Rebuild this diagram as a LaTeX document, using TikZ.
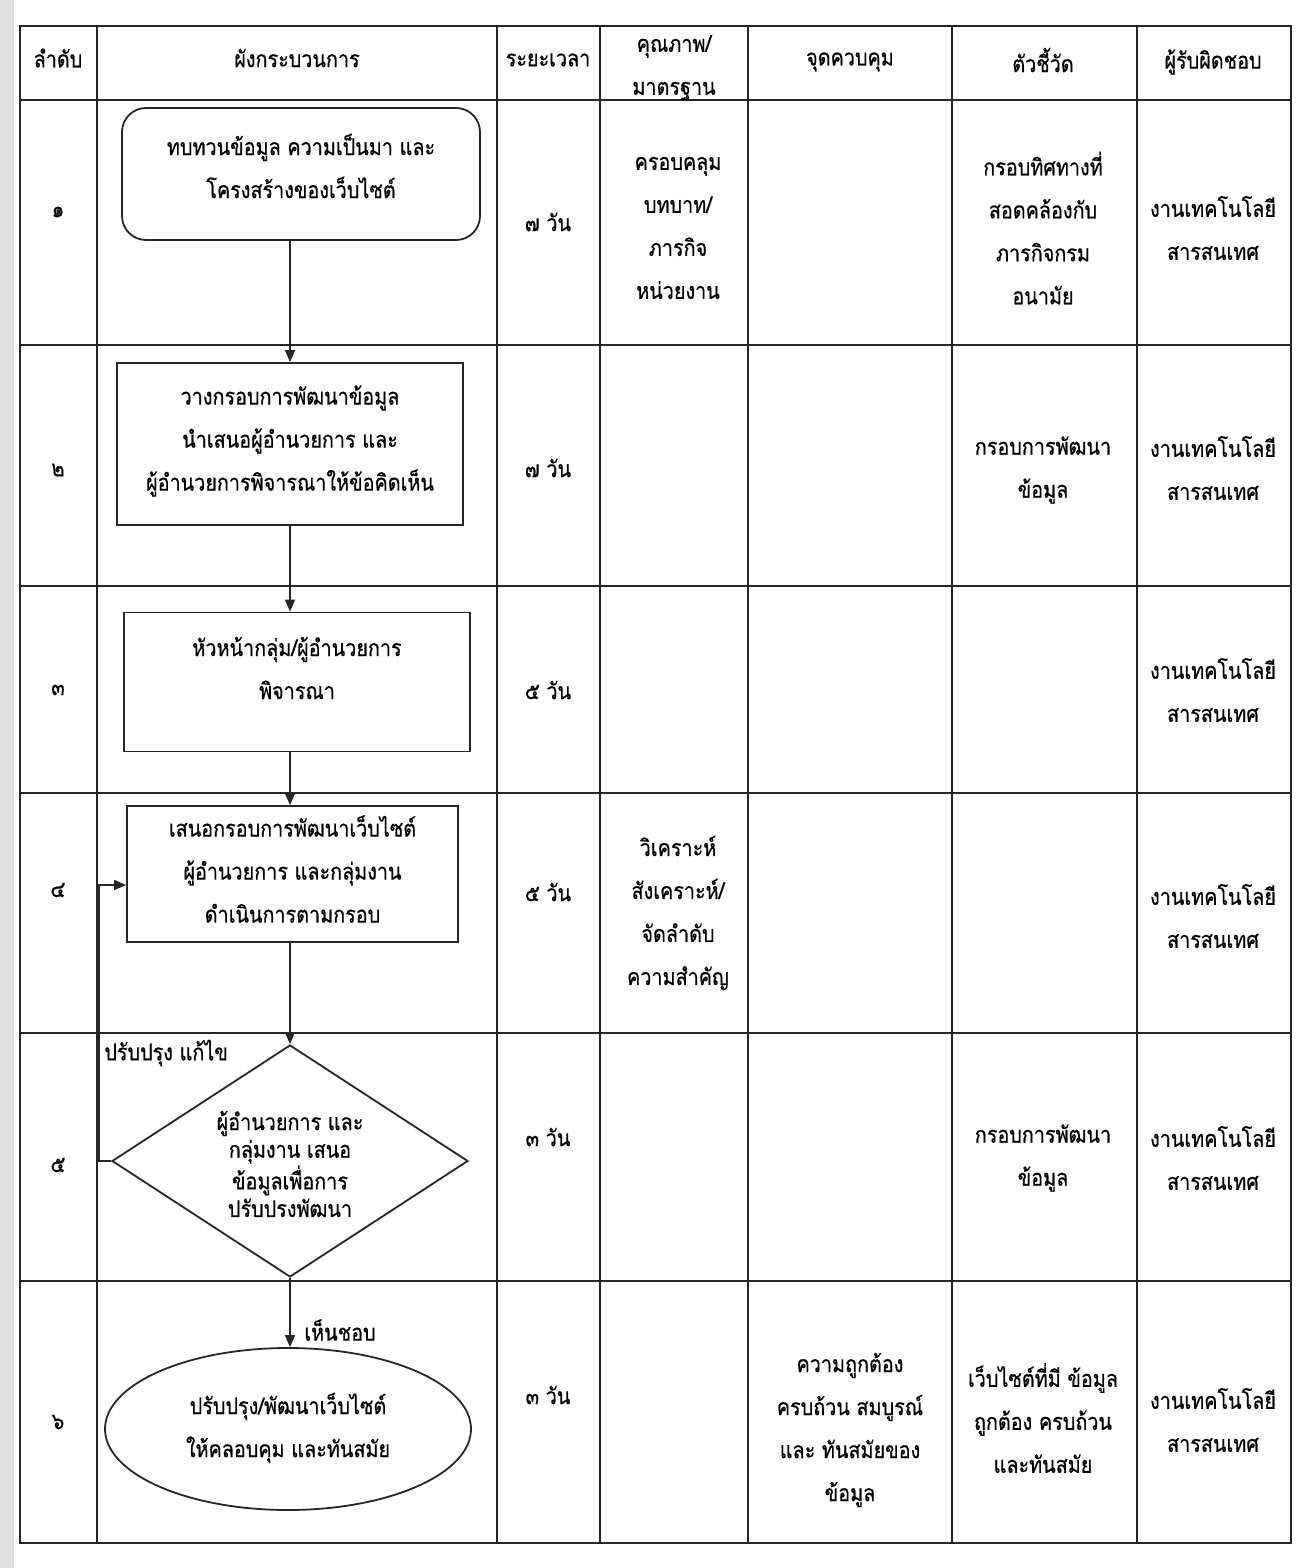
\documentclass[tikz,border=0pt]{standalone}
\usepackage{fontspec}
\newfontfamily\thai[Script=Thai,FakeStretch=0.86,FakeBold=0.6]{Loma}
\usetikzlibrary{shapes.geometric,arrows.meta}
\begin{document}
\begin{tikzpicture}[x=0.5pt,y=-0.5pt,
  txt/.style={font=\thai\fontsize{11.5}{21.5}\selectfont, align=center, inner sep=0pt},
  small/.style={font=\thai\fontsize{11.5}{13.8}\selectfont, align=center, inner sep=0pt},
  grid/.style={line width=1pt, draw=black!85},
  shp/.style={draw=black!85, line width=0.9pt, inner sep=0pt},
  arr/.style={draw=black!85, line width=0.8pt, -{Triangle[width=5pt,length=6pt]}}]
\useasboundingbox (0,0) rectangle (1297,1568);
\fill[white] (0,0) rectangle (1297,1568);
\fill[black!12] (0,0) rectangle (14,1568);
% table grid
\draw[grid] (20,26) rectangle (1291,1543);
\foreach \x in {97,497,600,748,952,1137} \draw[grid] (\x,26) -- (\x,1543);
\foreach \y in {100,345,586,793,1033,1281} \draw[grid] (20,\y) -- (1291,\y);
% header
\node[txt] (h1) at (58,58) {ลำดับ};
\node[txt] (h2) at (297,58) {ผังกระบวนการ};
\node[txt] (h3) at (548,60) {ระยะเวลา};
\node[txt] (h4) at (674,68) {คุณภาพ/\\มาตรฐาน};
\node[txt] (h5) at (850,62) {จุดควบคุม};
\node[txt] (h6) at (1043,60) {ตัวชี้วัด};
\node[txt] (h7) at (1213,62) {ผู้รับผิดชอบ};
% sequence numbers
\node[txt] (n1) at (58,212) {๑};
\node[txt] (n2) at (58,470) {๒};
\node[txt] (n3) at (58,690) {๓};
\node[txt] (n4) at (58,890) {๔};
\node[txt] (n5) at (58,1165) {๕};
\node[txt] (n6) at (58,1422) {๖};
% durations
\node[txt] (t1) at (548,222) {๗ วัน};
\node[txt] (t2) at (548,468) {๗ วัน};
\node[txt] (t3) at (548,690) {๕ วัน};
\node[txt] (t4) at (548,892) {๕ วัน};
\node[txt] (t5) at (548,1137) {๓ วัน};
\node[txt] (t6) at (548,1395) {๓ วัน};
% quality
\node[txt] (q1) at (678,228) {ครอบคลุม\\บทบาท/\\ภารกิจ\\หน่วยงาน};
\node[txt] (q4) at (678,913) {วิเคราะห์\\สังเคราะห์/\\จัดลำดับ\\ความสำคัญ};
% control point
\node[txt] (c6) at (850,1430) {ความถูกต้อง\\ครบถ้วน สมบูรณ์\\และ ทันสมัยของ\\ข้อมูล};
% indicators
\node[txt] (k1) at (1043,228) {กรอบทิศทางที่\\สอดคล้องกับ\\ภารกิจกรม\\อนามัย};
\node[txt] (k2) at (1043,470) {กรอบการพัฒนา\\ข้อมูล};
\node[txt] (k5) at (1043,1158) {กรอบการพัฒนา\\ข้อมูล};
\node[txt] (k6) at (1043,1418) {เว็บไซต์ที่มี ข้อมูล\\ถูกต้อง ครบถ้วน\\และทันสมัย};
% responsible
\node[txt] (r1) at (1213,228) {งานเทคโนโลยี\\สารสนเทศ};
\node[txt] (r2) at (1213,468) {งานเทคโนโลยี\\สารสนเทศ};
\node[txt] (r3) at (1213,690) {งานเทคโนโลยี\\สารสนเทศ};
\node[txt] (r4) at (1213,916) {งานเทคโนโลยี\\สารสนเทศ};
\node[txt] (r5) at (1213,1158) {งานเทคโนโลยี\\สารสนเทศ};
\node[txt] (r6) at (1213,1420) {งานเทคโนโลยี\\สารสนเทศ};
% flowchart shapes
\node[shp, rounded corners=12pt, minimum width=179pt, minimum height=66pt] (b1) at (301,174) {};
\node[txt] (b1t) at (301,166) {ทบทวนข้อมูล ความเป็นมา และ\\โครงสร้างของเว็บไซต์};
\node[shp, minimum width=173pt, minimum height=81pt] (b2) at (290,444) {};
\node[txt] (b2t) at (290,441) {วางกรอบการพัฒนาข้อมูล\\นำเสนอผู้อำนวยการ และ\\ผู้อำนวยการพิจารณาให้ข้อคิดเห็น};
\node[shp, minimum width=173pt, minimum height=69.5pt] (b3) at (297,682) {};
\node[txt] (b3t) at (297,668) {หัวหน้ากลุ่ม/ผู้อำนวยการ\\พิจารณา};
\node[shp, minimum width=165.5pt, minimum height=68pt] (b4) at (292.5,874) {};
\node[txt] (b4t) at (292.5,869) {เสนอกรอบการพัฒนาเว็บไซต์\\ผู้อำนวยการ และกลุ่มงาน\\ดำเนินการตามกรอบ};
\node[shp, diamond, minimum width=178pt, minimum height=116pt] (d5) at (290,1161) {};
\node[small] (d5t) at (290,1164) {ผู้อำนวยการ และ\\กลุ่มงาน เสนอ\\ข้อมูลเพื่อการ\\ปรับปรงพัฒนา};
\node[shp, ellipse, minimum width=183pt, minimum height=81pt] (e6) at (288,1429) {};
\node[txt] (e6t) at (288,1428) {ปรับปรุง/พัฒนาเว็บไซต์\\ให้คลอบคุม และทันสมัย};
% connectors
\draw[arr] (b1.south -| b2.north) -- (b2.north);
\draw[arr] (b2.south) -- (b2.south |- b3.north);
\draw[arr] (b2.south |- b3.south) -- (b2.south |- b4.north);
\draw[arr] (d5.north |- b4.south) -- (d5.north);
\draw[arr] (d5.south) -- (d5.south |- e6.north);
\draw[arr] (d5.west) -- ++(-12,0) |- ([yshift=-5.5pt]b4.west);
% connector labels
\node[txt, anchor=west] (l1) at (104,1053) {ปรับปรุง แก้ไข};
\node[txt, anchor=west] (l2) at (304,1330) {เห็นชอบ};
\end{tikzpicture}
\end{document}
